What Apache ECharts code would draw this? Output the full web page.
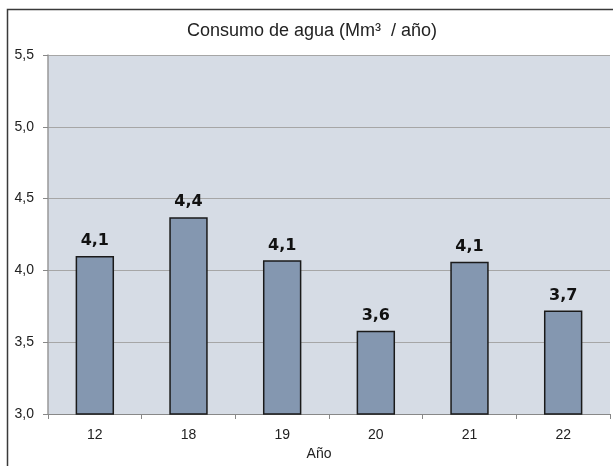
<!DOCTYPE html>
<html><head><meta charset="utf-8">
<script src="https://cdn.jsdelivr.net/npm/echarts@6/dist/echarts.min.js"></script>
<style>html,body{margin:0;padding:0;background:#fff}#c{width:613px;height:466px}</style>
</head><body><div id="c"></div>
<script>
const categories = ['12', '18', '19', '20', '21', '22'];
const consumo = [4.10, 4.37, 4.07, 3.58, 4.06, 3.72];
const yTicks = [3.0, 3.5, 4.0, 4.5, 5.0, 5.5];
const titleText = 'Consumo de agua (Mm³  / año)';
const xName = 'Año';

const fmt = v => v.toFixed(1).replace('.', ',');
const chart = echarts.init(document.getElementById('c'), null, {renderer: 'canvas'});
chart.setOption({
  animation: false,
  backgroundColor: '#fff',
  title: {text: titleText, left: 187, top: 22, padding: 0,
    textStyle: {fontFamily: 'Liberation Sans', fontSize: 18, fontWeight: 'normal', color: '#222'}},
  graphic: [{type: 'rect', shape: {x: 7.5, y: 9.5, width: 640, height: 500},
    style: {fill: 'none', stroke: '#3a3a3a', lineWidth: 1.5}, z: 100}],
  grid: {left: 48, right: 3, top: 55, bottom: 52, show: true, backgroundColor: '#d6dce5', borderWidth: 0},
  xAxis: {type: 'category', data: categories, name: xName, nameLocation: 'middle', nameGap: 33,
    nameTextStyle: {fontFamily: 'Liberation Sans', fontSize: 14, color: '#222', padding: [0, 20, 0, 0]},
    axisLine: {lineStyle: {color: '#888', width: 1}},
    axisTick: {show: true, alignWithLabel: false, length: 5, lineStyle: {color: '#888'}},
    axisLabel: {fontFamily: 'Liberation Sans', fontSize: 14, color: '#222', margin: 14}},
  yAxis: {type: 'value', min: 3.0, max: 5.5, interval: 0.5,
    axisLine: {show: true, lineStyle: {color: '#999', width: 1.5}},
    axisTick: {show: true, length: 5, lineStyle: {color: '#888'}},
    axisLabel: {fontFamily: 'Liberation Sans', fontSize: 14, color: '#222', margin: 14,
      formatter: v => yTicks.includes(+v.toFixed(1)) ? fmt(v) : ''},
    splitLine: {lineStyle: {color: '#a6a6a6', width: 1}}},
  series: [{type: 'bar', data: consumo, barWidth: '41%',
    itemStyle: {color: '#8497b0', borderColor: '#1a1a1a', borderWidth: 1.5},
    label: {show: true, position: 'top', distance: 7, formatter: p => fmt(p.value),
      fontFamily: 'DejaVu Sans', fontWeight: 'bold', fontSize: 16, color: '#111'}}]
});
</script></body></html>
